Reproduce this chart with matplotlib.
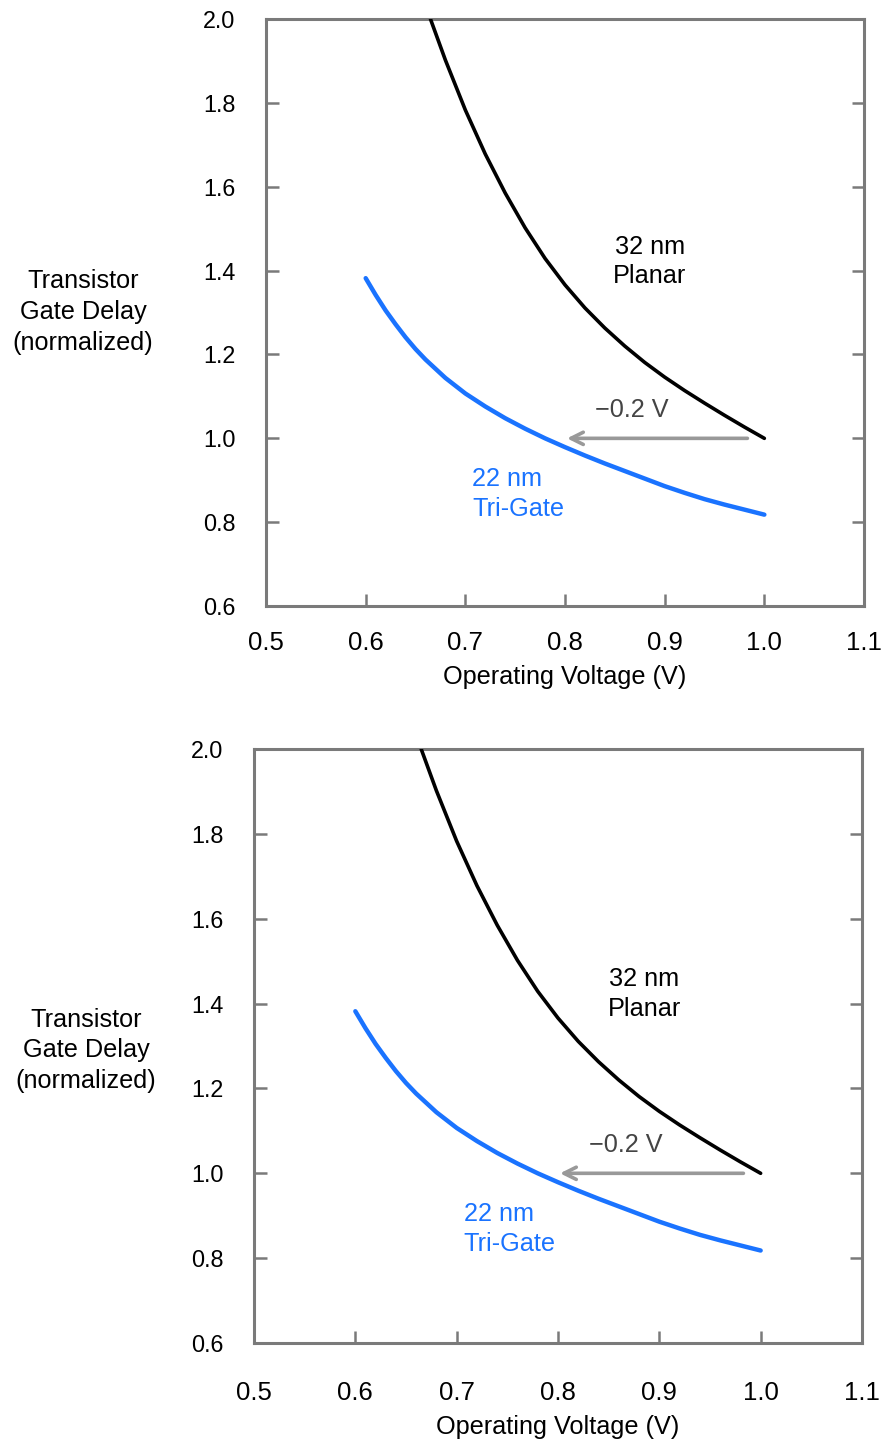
import matplotlib
matplotlib.use("Agg")
import matplotlib.pyplot as plt

plt.rcParams['font.family'] = ['Liberation Sans', 'DejaVu Sans']

# ---- data ----
planar_v = [0.665, 0.68, 0.70, 0.72, 0.74, 0.76, 0.78, 0.80, 0.82, 0.84, 0.86, 0.88, 0.90,
            0.92, 0.94, 0.96, 0.98, 1.00]
planar_d = [2.00, 1.902, 1.783, 1.678, 1.585, 1.502, 1.429, 1.366, 1.311, 1.263, 1.220, 1.181,
            1.146, 1.114, 1.084, 1.055, 1.027, 1.00]
trigate_v = [0.60, 0.61, 0.62, 0.63, 0.64, 0.65, 0.66, 0.68, 0.70, 0.72, 0.74, 0.76, 0.78,
             0.80, 0.82, 0.84, 0.86, 0.88, 0.90, 0.92, 0.94, 0.96, 0.98, 1.00]
trigate_d = [1.382, 1.342, 1.305, 1.272, 1.241, 1.213, 1.188, 1.144, 1.107, 1.076, 1.048, 1.023,
             1.000, 0.979, 0.959, 0.940, 0.922, 0.904, 0.886, 0.870, 0.855, 0.842, 0.830, 0.818]
x_ticks = [0.5, 0.6, 0.7, 0.8, 0.9, 1.0, 1.1]
x_tick_labels = ["0.5", "0.6", "0.7", "0.8", "0.9", "1.0", "1.1"]
y_ticks = [0.6, 0.8, 1.0, 1.2, 1.4, 1.6, 1.8, 2.0]
y_tick_labels = ["0.6", "0.8", "1.0", "1.2", "1.4", "1.6", "1.8", "2.0"]
arrow_from = (0.983, 1.0)
arrow_to = (0.802, 1.0)
shift_label = "\u22120.2 V"
planar_label = "32 nm\nPlanar"
trigate_label = "22 nm\nTri-Gate"
y_label = "Transistor\nGate Delay\n(normalized)"
x_label = "Operating Voltage (V)"

BLUE = '#1a73ff'
SPINE = '#7a7a7a'
FS = 18.2
FS_XT = 18.5
FS_YT = 16.8

fig = plt.figure(figsize=(8.9, 14.43), dpi=100)


def panel(rect, xpad, ylab_pos, xlab_y):
    ax = fig.add_axes(rect)
    ax.plot(planar_v, planar_d, color='black', lw=2.6, solid_capstyle='round',
            solid_joinstyle='round', zorder=3)
    ax.plot(trigate_v, trigate_d, color=BLUE, lw=3.2, solid_capstyle='round',
            solid_joinstyle='round', zorder=3)
    ax.set_xlim(0.5, 1.1)
    ax.set_ylim(0.6, 2.0)
    ax.set_xticks(x_ticks)
    ax.set_xticklabels(x_tick_labels)
    ax.set_yticks(y_ticks)
    ax.set_yticklabels(y_tick_labels)
    for s in ax.spines.values():
        s.set_color(SPINE)
        s.set_linewidth(2.2)
    ax.tick_params(axis='x', direction='in', length=9, width=1.8, color=SPINE,
                   labelsize=FS_XT, pad=xpad, top=False)
    ax.tick_params(axis='y', direction='in', length=9, width=1.8, color=SPINE,
                   labelsize=FS_YT, pad=22, right=True)
    ax.annotate('', xy=arrow_to, xytext=arrow_from,
                arrowprops=dict(arrowstyle='->', color='#999999', lw=2.6,
                                mutation_scale=22, shrinkA=0, shrinkB=0))
    ax.text(0.867, 1.067, shift_label, color='#444444', fontsize=FS, ha='center', va='center')
    ax.text(0.885, 1.422, planar_label, color='black', fontsize=FS, ha='center', va='center',
            linespacing=1.3)
    ax.text(0.707, 0.868, trigate_label, color=BLUE, fontsize=FS, ha='left', va='center',
            linespacing=1.3)
    ax.text(ylab_pos[0], ylab_pos[1], y_label, transform=ax.transAxes, fontsize=FS,
            ha='center', va='center', linespacing=1.35)
    ax.set_xlabel(x_label, fontsize=FS)
    ax.xaxis.set_label_coords(0.5, xlab_y)
    return ax


panel([0.2989, 0.5800, 0.6719, 0.4068], xpad=18, ylab_pos=(-0.306, 0.501), xlab_y=-0.1)
panel([0.2854, 0.0693, 0.6831, 0.4116], xpad=27, ylab_pos=(-0.276, 0.493), xlab_y=-0.121)

fig.savefig('out.png', dpi=100)
